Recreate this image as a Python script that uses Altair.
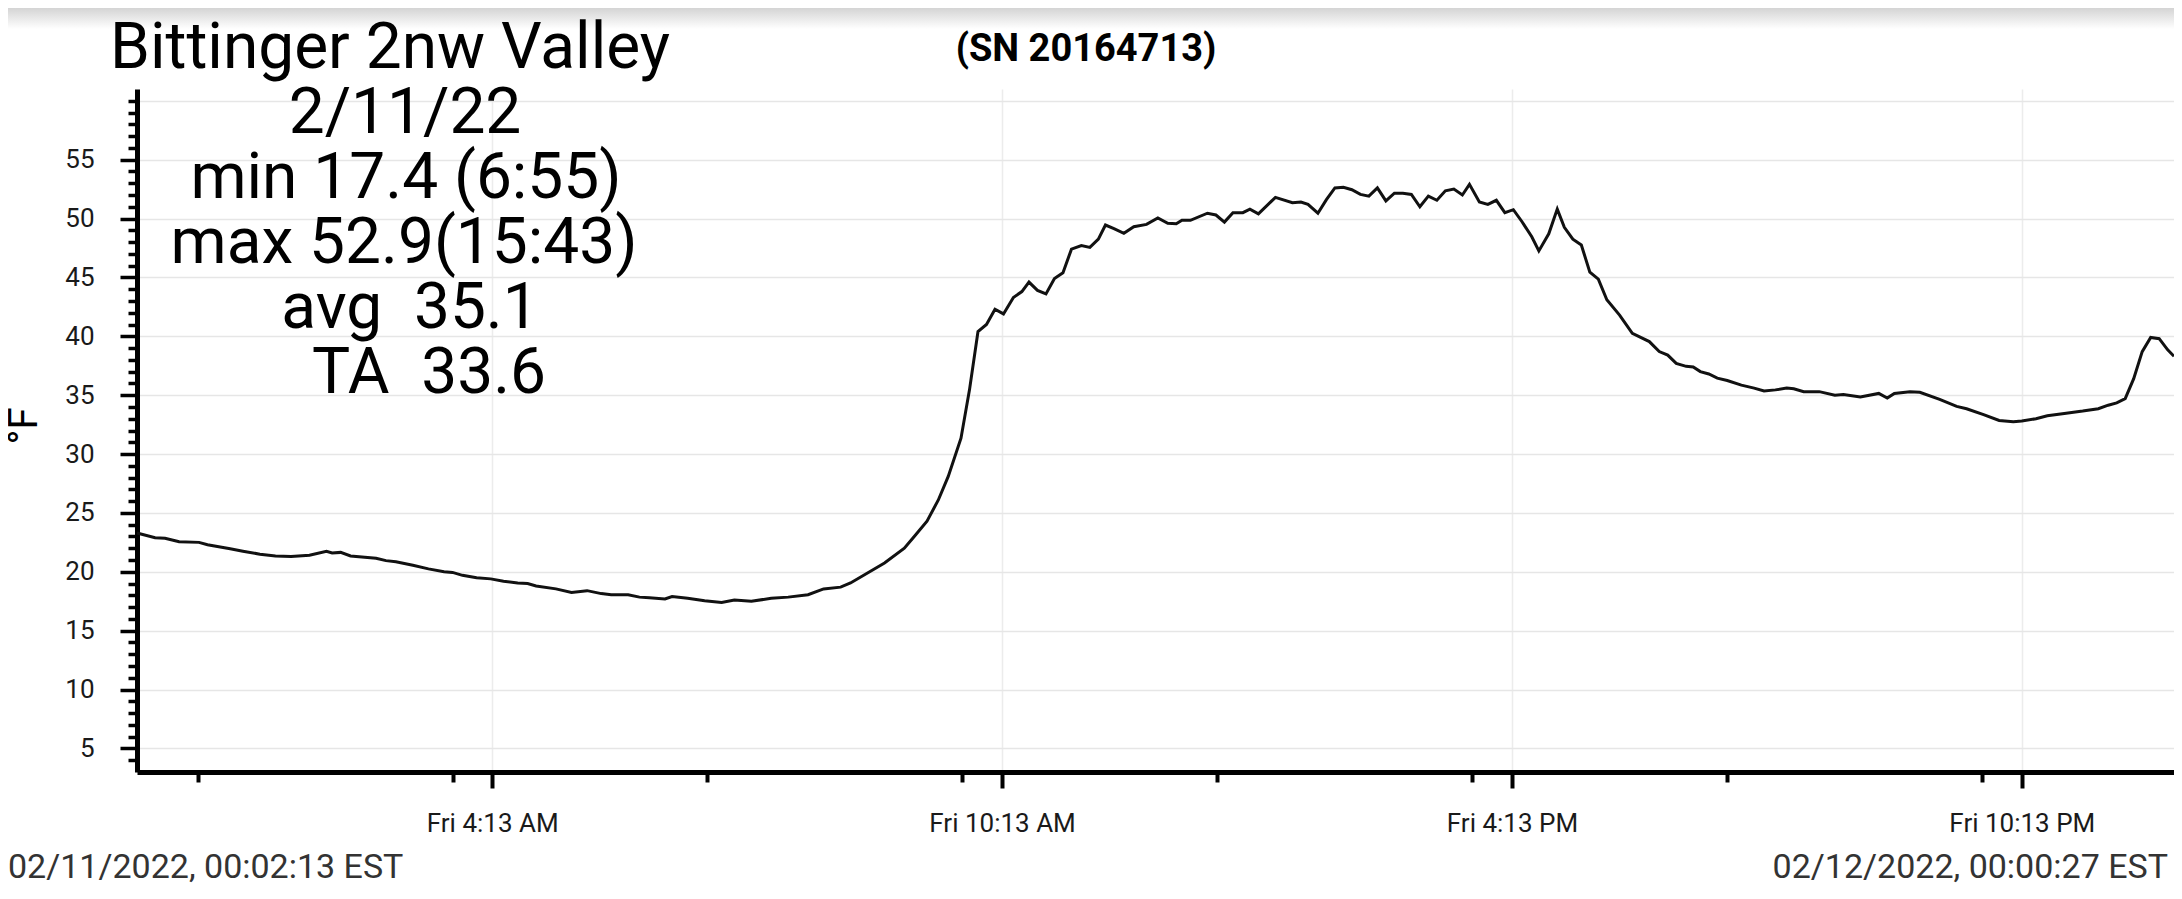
import altair as alt
import pandas as pd

# logger readings, 2/11/22 (times local, EST)
times = [
    "00:02:13", "00:15", "00:22", "00:32", "00:46", "00:52", "01:08", "01:17", "01:29", "01:40",
    "01:51", "02:04", "02:16", "02:20", "02:26", "02:33", "02:51", "02:58", "03:05", "03:17",
    "03:28", "03:39", "03:45", "03:52", "04:02", "04:12", "04:21", "04:31", "04:38", "04:44",
    "04:58", "05:09", "05:20", "05:30", "05:37", "05:49", "05:57", "06:04", "06:15", "06:20",
    "06:31", "06:43", "06:55", "07:04", "07:16", "07:30", "07:42", "07:56", "08:07", "08:19",
    "08:26", "08:38", "08:50", "09:04", "09:11", "09:20", "09:28", "09:35", "09:44", "09:50",
    "09:56", "10:02", "10:08", "10:14", "10:21", "10:27", "10:32", "10:38", "10:44", "10:50",
    "10:56", "11:02", "11:09", "11:15", "11:21", "11:26", "11:32", "11:39", "11:46", "11:55",
    "12:03", "12:10", "12:16", "12:20", "12:26", "12:38", "12:44", "12:50", "12:56", "13:03",
    "13:08", "13:14", "13:26", "13:38", "13:44", "13:49", "13:56", "14:02", "14:08", "14:14",
    "14:20", "14:26", "14:32", "14:38", "14:44", "14:50", "14:56", "15:02", "15:08", "15:14",
    "15:20", "15:26", "15:32", "15:38", "15:43", "15:50", "15:56", "16:02", "16:08", "16:14",
    "16:20", "16:27", "16:32", "16:39", "16:45", "16:50", "16:56", "17:02", "17:08", "17:14",
    "17:20", "17:29", "17:38", "17:50", "17:57", "18:03", "18:09", "18:16", "18:21", "18:26",
    "18:32", "18:38", "18:45", "18:55", "19:04", "19:11", "19:19", "19:27", "19:32", "19:39",
    "19:50", "20:01", "20:07", "20:19", "20:32", "20:38", "20:43", "20:54", "21:01", "21:15",
    "21:27", "21:34", "21:46", "21:57", "22:07", "22:13", "22:23", "22:31", "22:43", "22:56",
    "23:07", "23:14", "23:20", "23:26", "23:32", "23:38", "23:44", "23:50", "23:56", "24:00:27",
]
temps = [
    23.3, 22.9, 22.85, 22.55, 22.5, 22.3, 21.95, 21.75, 21.5, 21.35,
    21.3, 21.4, 21.75, 21.6, 21.65, 21.35, 21.15, 20.95, 20.85, 20.55,
    20.25, 20.0, 19.95, 19.7, 19.5, 19.4, 19.2, 19.05, 19.0, 18.8,
    18.55, 18.25, 18.4, 18.15, 18.05, 18.05, 17.85, 17.8, 17.7, 17.9,
    17.75, 17.55, 17.4, 17.6, 17.5, 17.75, 17.85, 18.05, 18.55, 18.7,
    19.05, 19.9, 20.75, 22.0, 23.0, 24.3, 26.1, 28.1, 31.35, 35.45,
    40.4, 41.0, 42.3, 41.9, 43.3, 43.8, 44.6, 43.9, 43.6, 44.9,
    45.4, 47.4, 47.7, 47.55, 48.25, 49.45, 49.15, 48.75, 49.3, 49.5,
    50.05, 49.6, 49.55, 49.85, 49.85, 50.45, 50.3, 49.7, 50.5, 50.5,
    50.8, 50.4, 51.8, 51.35, 51.4, 51.2, 50.45, 51.6, 52.6, 52.65,
    52.45, 52.05, 51.9, 52.6, 51.5, 52.15, 52.15, 52.05, 51.0, 51.9,
    51.55, 52.35, 52.5, 52.0, 52.9, 51.4, 51.2, 51.55, 50.5, 50.75,
    49.75, 48.45, 47.25, 48.7, 50.8, 49.25, 48.25, 47.75, 45.45, 44.85,
    43.1, 41.8, 40.25, 39.55, 38.7, 38.4, 37.7, 37.45, 37.4, 37.0,
    36.8, 36.45, 36.25, 35.85, 35.6, 35.35, 35.45, 35.6, 35.55, 35.3,
    35.3, 35.0, 35.05, 34.85, 35.15, 34.75, 35.15, 35.3, 35.25, 34.65,
    34.05, 33.85, 33.35, 32.85, 32.75, 32.8, 33.0, 33.25, 33.45, 33.65,
    33.85, 34.15, 34.35, 34.7, 36.4, 38.7, 39.9, 39.8, 38.85, 38.3,
]

station = "Bittinger 2nw Valley"
serial = "(SN 20164713)"
summary = ["2/11/22", "min 17.4 (6:55)", "max 52.9(15:43)",
           "avg\u00a0\u00a035.1", "TA\u00a0\u00a033.6"]
unit = "°F"
start_label = "02/11/2022, 00:02:13 EST"
end_label = "02/12/2022, 00:00:27 EST"

major_hours = [(4, 13), (10, 13), (16, 13), (22, 13)]
minor_hours = [(0, 45), (3, 45), (6, 45), (9, 45), (12, 45), (15, 45), (18, 45), (21, 45)]


def to_iso(t):
    parts = t.split(":")
    h, m = int(parts[0]), int(parts[1])
    s = int(parts[2]) if len(parts) > 2 else 0
    day = 11
    if h >= 24:
        h -= 24
        day = 12
    return f"2022-02-{day:02d}T{h:02d}:{m:02d}:{s:02d}"


df = pd.DataFrame({"time": [to_iso(t) for t in times], "temp": temps})

tick_values = [alt.DateTime(year=2022, month=2, date=11, hours=h, minutes=m)
               for h, m in sorted(major_hours + minor_hours)]

W, H = 2037, 683
FONT = "Roboto"

x_axis = alt.Axis(
    values=tick_values,
    labelExpr="minutes(datum.value) == 13 ? timeFormat(datum.value, '%a %-I:%M %p') : ''",
    labelOverlap=False,
    labelFlush=False,
    labelFontSize=26,
    labelColor="#1a1a1a",
    labelPadding=22,
    tickSize={"condition": {"test": "minutes(datum.value) == 13", "value": 16}, "value": 10},
    tickWidth=4,
    tickColor="black",
    domainColor="black",
    domainWidth=5,
    grid=True,
    gridColor="#ececec",
    gridWidth=1.5,
    gridOpacity={"condition": {"test": "minutes(datum.value) == 13", "value": 1}, "value": 0},
    title=None,
)

y_axis = alt.Axis(
    values=list(range(4, 61)),
    labelExpr="datum.value % 5 == 0 && datum.value < 60 ? datum.label : ''",
    labelOverlap=False,
    labelFlush=False,
    labelFontSize=26,
    labelColor="#1a1a1a",
    labelPadding=26,
    tickSize={"condition": {"test": "datum.value % 5 == 0 && datum.value < 60", "value": 17}, "value": 9},
    tickWidth=3.5,
    tickColor="black",
    domainColor="black",
    domainWidth=5,
    grid=True,
    gridColor="#e6e6e6",
    gridWidth=1.5,
    gridOpacity={"condition": {"test": "datum.value % 5 == 0", "value": 1}, "value": 0},
    title=None,
)

line = alt.Chart(df).mark_line(color="#111111", strokeWidth=3).encode(
    x=alt.X("time:T", axis=x_axis,
            scale=alt.Scale(domain=[alt.DateTime(year=2022, month=2, date=11, hours=0, minutes=2, seconds=13),
                                    alt.DateTime(year=2022, month=2, date=12, hours=0, minutes=0, seconds=27)])),
    y=alt.Y("temp:Q", axis=y_axis, scale=alt.Scale(domain=[3, 61], nice=False, zero=False)),
)

one = pd.DataFrame({"k": [0]})


def label(text, x, y, size, align="center", weight="normal", color="black", angle=0):
    return alt.Chart(one).mark_text(
        text=text, x=x, y=y, align=align, baseline="alphabetic", angle=angle,
        font=FONT, fontSize=size, fontWeight=weight, color=color,
    ).encode(opacity=alt.value(1))


# faint shadow along the top edge of the screen
shade = alt.Chart(one).mark_rect(
    color=alt.LinearGradient(
        gradient="linear", x1=0, x2=0, y1=0, y2=1,
        stops=[alt.GradientStop(color="#d4d4d4", offset=0),
               alt.GradientStop(color="#ffffff", offset=1)],
    )
).encode(x=alt.value(-129), x2=alt.value(W), y=alt.value(-81), y2=alt.value(-60))

# summary block: baselines 65px apart, centred under the station name
summary_x = [268, 269, 267, 273, 292]
texts = [
    label(station, 253, -21, 64),
    label(serial, 949, -28, 38, weight="bold"),
    label(start_label, -129, 789, 34, align="left", color="#333333"),
    label(end_label, 2031, 789, 34, align="right", color="#333333"),
    label(unit, -100, 337, 40, angle=270),
]
texts += [label(s, summary_x[i], 44 + 65 * i, 64) for i, s in enumerate(summary)]

chart = (
    alt.layer(shade, line, *texts)
    .properties(
        width=W,
        height=H,
        autosize=alt.AutoSizeParams(type="none"),
        padding={"left": 129, "top": 81, "right": 0, "bottom": 118},
        background="white",
    )
    .configure_axis(labelFont=FONT)
    .configure_view(strokeWidth=0)
)

chart.save("out.html", embed_options={"renderer": "svg", "actions": False})
